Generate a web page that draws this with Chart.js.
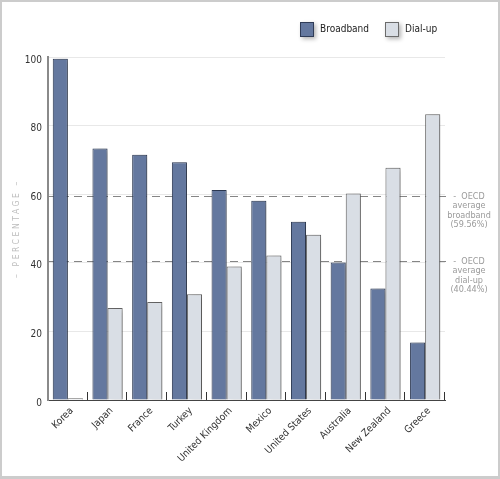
<!DOCTYPE html>
<html>
<head>
<meta charset="utf-8">
<script src="https://cdn.jsdelivr.net/npm/chart.js@4"></script>
<style>
  html, body { margin: 0; padding: 0; background: #fff; }
</style>
</head>
<body>
<canvas id="chart1" width="500" height="479"></canvas>
<script>
// Data (share of connections, %)
var countries = ["Korea", "Japan", "France", "Turkey", "United Kingdom", "Mexico", "United States", "Australia", "New Zealand", "Greece"];
var broadband = [99.5, 73.3, 71.5, 69.3, 61.2, 58.1, 52.0, 40.1, 32.5, 16.8];
var dialup = [0.5, 26.8, 28.6, 30.8, 38.9, 42.1, 48.2, 60.2, 67.7, 83.3];
var yTicks = [0, 20, 40, 60, 80, 100];
var averageNames = ["broadband", "dial-up"];
var averageValues = [59.56, 40.44];

var FONT = "'DejaVu Sans Condensed', 'Liberation Sans', sans-serif";
var colors = {
  broadband: "#64789f",
  broadbandEdge: "#2f3c57",
  dialup: "#d9dee5",
  dialupEdge: "#6b6b6b",
};

// frame + white background
var framePlugin = {
  id: "frame",
  beforeDraw: function (chart) {
    var ctx = chart.ctx;
    ctx.save();
    ctx.fillStyle = "#fff";
    ctx.fillRect(0, 0, chart.width, chart.height);
    ctx.fillStyle = "#cccccc";
    ctx.fillRect(0, 0, chart.width, 2);
    ctx.fillRect(0, 0, 2, chart.height);
    ctx.fillRect(chart.width - 2, 0, 2, chart.height);
    ctx.fillRect(0, chart.height - 3, chart.width, 3);
    ctx.restore();
  },
};

// OECD average lines, bar shadows, inner ticks, legend, y title
var extrasPlugin = {
  id: "extras",
  beforeDatasetsDraw: function (chart) {
    var ctx = chart.ctx;
    var area = chart.chartArea;
    var ys = chart.scales.y;
    ctx.save();
    for (var i = 0; i < averageValues.length; i++) {
      var py = Math.round(ys.getPixelForValue(averageValues[i])) + 0.5;
      ctx.strokeStyle = "#858585";
      ctx.lineWidth = 1;
      ctx.setLineDash([8, 5]);
      ctx.beginPath();
      ctx.moveTo(area.left, py);
      ctx.lineTo(area.right + 2, py);
      ctx.stroke();
      ctx.setLineDash([]);
      ctx.fillStyle = "#9a9a9a";
      ctx.font = "9px " + FONT;
      ctx.textAlign = "center";
      ctx.textBaseline = "middle";
      var lines = ["-  OECD", "average", averageNames[i], "(" + averageValues[i].toFixed(2) + "%)"];
      for (var k = 0; k < lines.length; k++) {
        ctx.fillText(lines[k], area.right + 24, py + k * 9.5);
      }
    }
    ctx.restore();
    ctx.save();
    ctx.shadowColor = "rgba(0,0,0,0.3)";
    ctx.shadowBlur = 6;
    ctx.shadowOffsetX = 3;
    ctx.shadowOffsetY = 1;
  },
  afterDatasetsDraw: function (chart) {
    var ctx = chart.ctx;
    ctx.restore();
    var area = chart.chartArea;
    var xs = chart.scales.x;
    var step = xs.width / countries.length;
    ctx.save();
    ctx.strokeStyle = "#333";
    ctx.lineWidth = 1;
    for (var i = 1; i <= countries.length; i++) {
      var px = Math.round(xs.left + i * step) - 0.5;
      ctx.beginPath();
      ctx.moveTo(px, area.bottom - 8);
      ctx.lineTo(px, area.bottom);
      ctx.stroke();
    }
    ctx.restore();
  },
  afterDraw: function (chart) {
    var ctx = chart.ctx;
    var area = chart.chartArea;
    // legend
    var items = [
      { text: "Broadband", fill: colors.broadband, edge: colors.broadbandEdge, x: 300 },
      { text: "Dial-up", fill: colors.dialup, edge: colors.dialupEdge, x: 385 },
    ];
    ctx.save();
    ctx.font = "10px " + FONT;
    ctx.textBaseline = "middle";
    items.forEach(function (it) {
      ctx.save();
      ctx.shadowColor = "rgba(0,0,0,0.3)";
      ctx.shadowBlur = 4;
      ctx.shadowOffsetX = 2;
      ctx.shadowOffsetY = 2;
      ctx.fillStyle = it.fill;
      ctx.fillRect(it.x, 22, 14, 15);
      ctx.restore();
      ctx.strokeStyle = it.edge;
      ctx.strokeRect(it.x + 0.5, 22.5, 13, 14);
      ctx.fillStyle = "#222";
      ctx.fillText(it.text, it.x + 20, 29.5);
    });
    ctx.restore();
    // y axis title
    ctx.save();
    ctx.translate(17, (area.top + area.bottom) / 2);
    ctx.rotate(-Math.PI / 2);
    ctx.font = "8.5px " + FONT;
    ctx.fillStyle = "#bdbdbd";
    ctx.textAlign = "center";
    ctx.textBaseline = "middle";
    ctx.letterSpacing = "2.6px";
    ctx.fillText("\u2013 PERCENTAGE \u2013", 0, 0);
    ctx.restore();
  },
};

var chart1 = new Chart(document.getElementById("chart1"), {
  type: "bar",
  data: {
    labels: countries,
    datasets: [
      {
        label: "Broadband",
        data: broadband,
        backgroundColor: colors.broadband,
        borderColor: colors.broadbandEdge,
        borderWidth: 1,
      },
      {
        label: "Dial-up",
        data: dialup,
        backgroundColor: colors.dialup,
        borderColor: colors.dialupEdge,
        borderWidth: 1,
      },
    ],
  },
  options: {
    responsive: false,
    animation: false,
    devicePixelRatio: 1,
    categoryPercentage: 0.76,
    barPercentage: 1,
    layout: { padding: { top: 57, right: 55, left: 0, bottom: 0 } },
    plugins: {
      legend: { display: false },
      tooltip: { enabled: false },
    },
    scales: {
      x: {
        grid: { display: false, drawTicks: false },
        border: { color: "#444", width: 1 },
        ticks: {
          color: "#333",
          font: { size: 10, family: FONT },
          minRotation: 45,
          maxRotation: 45,
          padding: 5,
          labelOffset: 4,
          autoSkip: false,
        },
        afterFit: function (scale) {
          scale.height = 79;
        },
      },
      y: {
        min: 0,
        max: 100,
        afterBuildTicks: function (scale) {
          scale.ticks = yTicks.map(function (v) { return { value: v }; });
        },
        grid: { color: "#e8e8e8", drawTicks: false },
        border: { color: "#8a8a8a", width: 2 },
        ticks: {
          color: "#333",
          font: { size: 10, family: FONT },
          padding: 6,
          labelOffset: 3,
        },
        afterFit: function (scale) {
          scale.width = 48;
        },
      },
    },
  },
  plugins: [framePlugin, extrasPlugin],
});
</script>
</body>
</html>
